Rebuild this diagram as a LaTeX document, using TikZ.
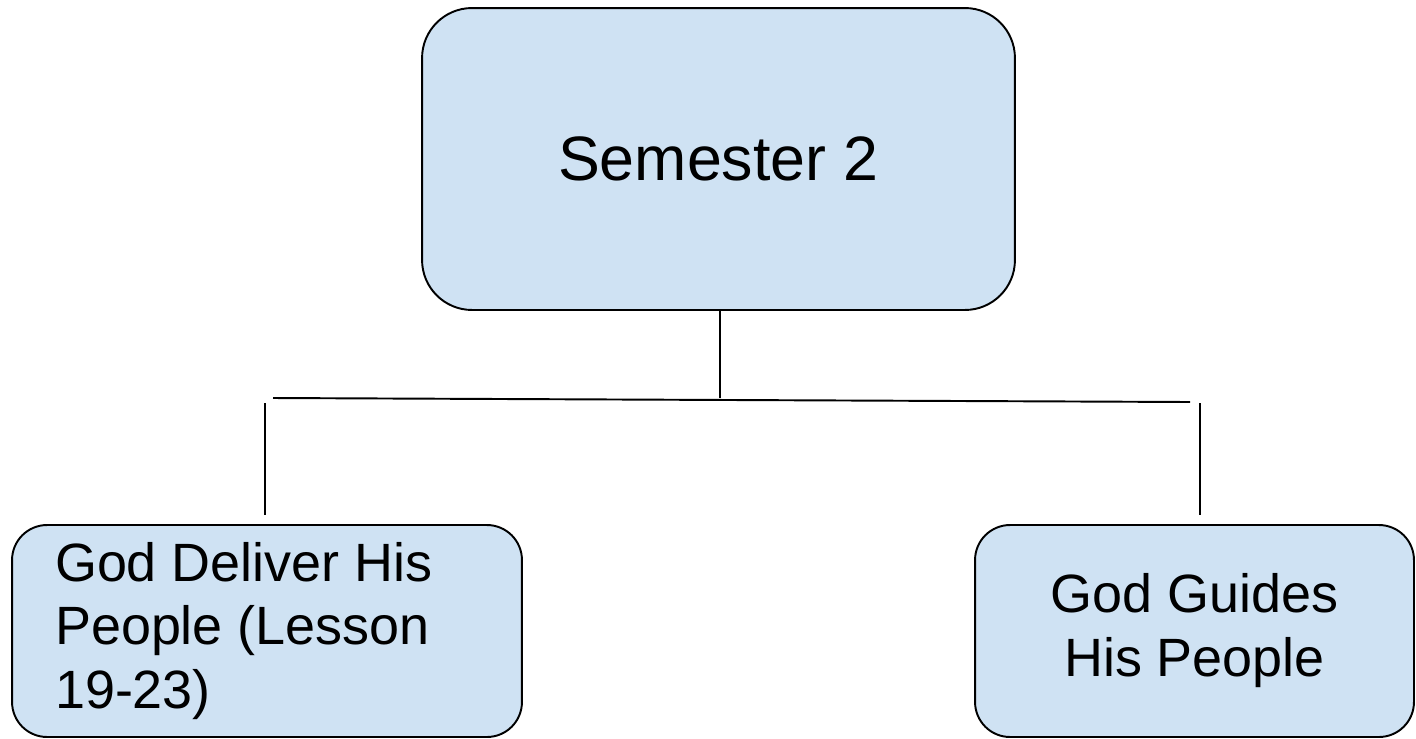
\documentclass[tikz,border=0pt]{standalone}
\usepackage{fontspec}
\setmainfont{Liberation Sans}
\usepackage{tikz}
\usetikzlibrary{shapes,arrows,positioning,fit}
\definecolor{boxblue}{HTML}{CFE2F3}
\begin{document}
\begin{tikzpicture}[x=0.02cm, y=-0.02cm]
		\tikzstyle{Topic}	= [rectangle, rounded corners=1cm, draw=black, line width=1.1pt, fill=boxblue, inner sep=0pt]
		\tikzstyle{Unit}	= [rectangle, rounded corners=0.7cm, draw=black, line width=1.1pt, fill=boxblue, inner sep=0pt, font=\fontsize{30.7}{36.4}\selectfont]
		\tikzstyle{Link}	= [line width=1.1pt, black]
		
		\useasboundingbox (0,0) rectangle (1416,738);
		
		\node (sem) at (718.5,159) [Topic, minimum width=11.86cm, minimum height=6.04cm] {\fontsize{35.7}{42}\selectfont Semester 2};
		\node (deliver) at (267,631) [Unit, minimum width=10.2cm, minimum height=4.24cm, text width=8.48cm, align=flush left] {God Deliver His People (Lesson 19-23)};
		\node (guides) at (1194.5,631) [Unit, minimum width=8.78cm, minimum height=4.24cm, align=center] {God Guides\\His People};
		
		\coordinate (mid) at (720,398);
		\coordinate (barL) at (273,398);
		\coordinate (barR) at (1190,402);
		\coordinate (dropL) at (265,403);
		\coordinate (dropR) at (1200,403);
		\coordinate (endL) at (265,515);
		\coordinate (endR) at (1200,515);
		
		\draw [-] (sem.south -| mid) to (mid) [Link];
		\draw [-] (barL) to (barR) [Link];
		\draw [-] (dropL) to (endL) [Link];
		\draw [-] (dropR) to (endR) [Link];
	\end{tikzpicture}
\end{document}
